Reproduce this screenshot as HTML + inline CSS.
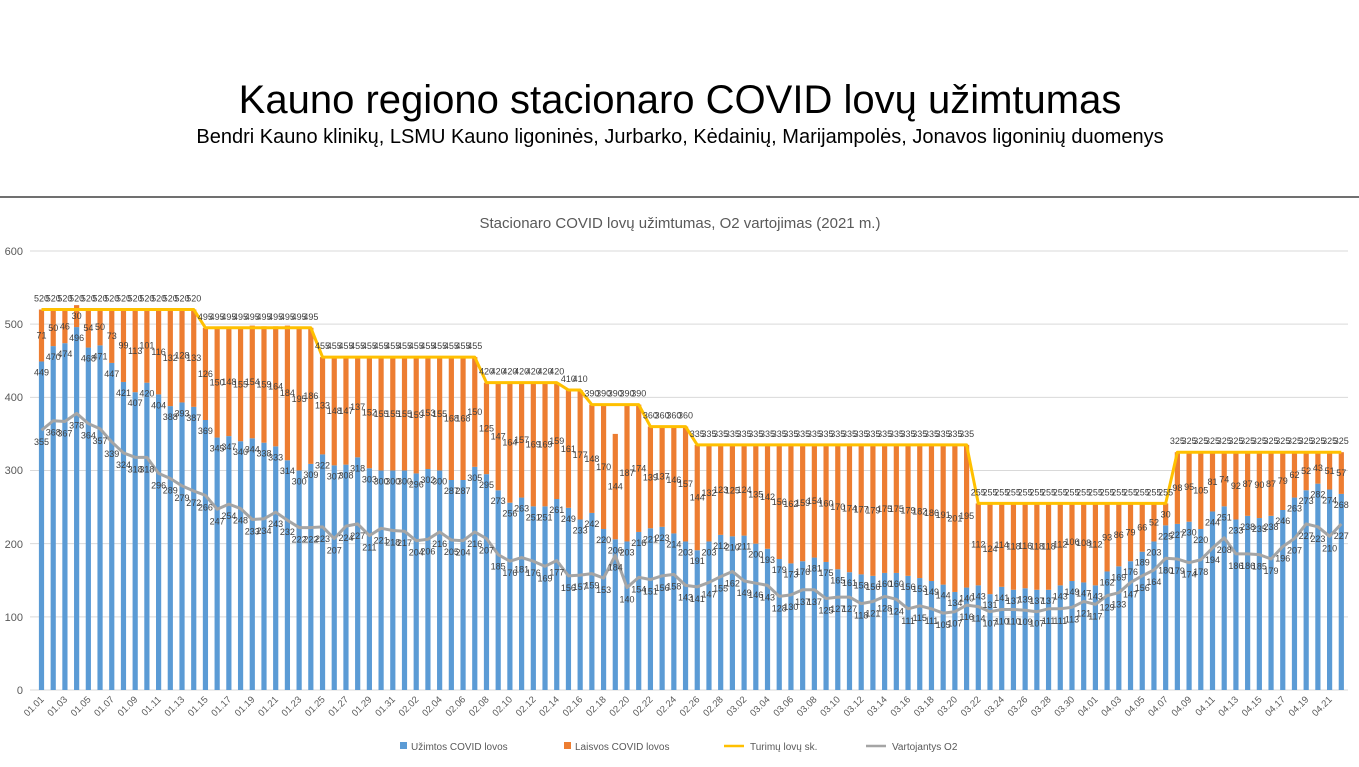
<!DOCTYPE html>
<html><head><meta charset="utf-8">
<style>
body{margin:0;background:#fff;width:1359px;height:762px;overflow:hidden;font-family:"Liberation Sans",sans-serif;}
</style></head><body>
<svg id="s" width="1359" height="762" xmlns="http://www.w3.org/2000/svg" font-family="Liberation Sans, sans-serif">
<text x="680" y="113" text-anchor="middle" font-size="40" fill="#000">Kauno regiono stacionaro COVID lovų užimtumas</text>
<text x="680" y="143" text-anchor="middle" font-size="20" fill="#000">Bendri Kauno klinikų, LSMU Kauno ligoninės, Jurbarko, Kėdainių, Marijampolės, Jonavos ligoninių duomenys</text>
<line x1="0" y1="197" x2="1359" y2="197" stroke="#404040" stroke-width="1.5"/>
<text x="680" y="228" text-anchor="middle" font-size="15" fill="#595959">Stacionaro COVID lovų užimtumas, O2 vartojimas (2021 m.)</text>
<g font-size="11" fill="#595959" text-anchor="end">
<text x="23" y="694">0</text><text x="23" y="621">100</text><text x="23" y="548">200</text><text x="23" y="474">300</text><text x="23" y="401">400</text><text x="23" y="328">500</text><text x="23" y="255">600</text>
</g>
<g id="grid" stroke="#d9d9d9" stroke-width="1"></g>
<g id="bars"></g>
<g id="lines"></g>
<g id="lbl" font-size="9" fill="#404040" text-anchor="middle"></g>
<g id="xl" font-size="9.5" fill="#595959"></g>
<g font-size="10" fill="#595959">
<rect x="400" y="742" width="7" height="7" fill="#5b9bd5"/><text x="411" y="750">Užimtos COVID lovos</text>
<rect x="564" y="742" width="7" height="7" fill="#ed7d31"/><text x="575" y="750">Laisvos COVID lovos</text>
<line x1="724" y1="746" x2="744" y2="746" stroke="#ffc000" stroke-width="2.5"/><text x="750" y="750">Turimų lovų sk.</text>
<line x1="866" y1="746" x2="886" y2="746" stroke="#a5a5a5" stroke-width="2.5"/><text x="892" y="750">Vartojantys O2</text>
</g>
</svg>
<script>
var B=[449,470,474,496,468,471,447,421,407,420,404,388,393,387,369,345,347,340,344,338,333,314,300,309,322,307,308,318,303,300,300,300,296,302,300,287,287,305,295,273,256,263,251,251,261,249,233,242,220,206,203,216,221,223,214,203,191,203,212,210,211,200,193,179,173,176,181,175,165,161,158,156,160,160,156,153,149,144,134,140,143,131,141,137,139,137,137,143,149,147,143,162,169,176,189,203,225,227,230,220,244,251,233,238,235,238,246,263,273,282,274,268];
var F=[71,50,46,30,54,50,73,99,113,101,116,132,128,133,126,150,148,155,154,159,164,184,195,186,133,148,147,137,152,155,155,155,159,153,155,168,168,150,125,147,164,157,169,169,159,161,177,148,170,144,187,174,139,137,146,157,144,132,123,125,124,135,142,156,162,159,154,160,170,174,177,179,175,175,179,182,186,191,201,195,112,124,114,118,116,118,118,112,106,108,112,93,86,79,66,52,30,98,95,105,81,74,92,87,90,87,79,62,52,43,51,57];
var O=[355,368,367,378,364,357,339,324,318,318,296,289,279,272,266,247,254,248,233,234,243,232,222,222,223,207,224,227,211,221,218,217,204,206,216,205,204,216,207,185,176,181,176,169,177,156,157,159,153,184,140,154,151,156,158,143,141,147,155,162,149,146,143,128,130,137,137,125,127,127,118,121,128,124,111,115,111,105,107,116,114,107,110,110,109,107,111,111,113,121,117,129,133,147,156,164,180,179,174,178,194,208,186,186,185,179,196,207,227,223,210,227];
var T=[];for(var i=0;i<112;i++){T.push(i<14?520:i<24?495:i<38?455:i<45?420:i<47?410:i<52?390:i<56?360:i<80?335:i<97?255:325);}
var NS="http://www.w3.org/2000/svg";
function el(p,n,a,t){var e=document.createElementNS(NS,n);for(var k in a)e.setAttribute(k,a[k]);if(t!==undefined)e.textContent=t;document.getElementById(p).appendChild(e);}
function Y(v){return 690-v*0.7317;}
function X(i){return 41.5+i*11.71;}
for(var g=0;g<=6;g++){el('grid','line',{x1:30,x2:1348,y1:Y(g*100),y2:Y(g*100)});}
var tp="",op="";
for(var i=0;i<112;i++){var x=X(i);
el('bars','rect',{x:x-2.6,y:Y(B[i]),width:5.2,height:B[i]*0.7317,fill:'#5b9bd5'});
el('bars','rect',{x:x-2.6,y:Y(B[i]+F[i]),width:5.2,height:F[i]*0.7317,fill:'#ed7d31'});
tp+=(i?'L':'M')+x+' '+Y(T[i]);op+=(i?'L':'M')+x+' '+Y(O[i]);
el('lbl','text',{x:x,y:Y(T[i])-8},T[i]);
el('lbl','text',{x:x,y:(Y(B[i]+F[i])+Y(B[i]))/2+3},F[i]);
el('lbl','text',{x:x,y:Y(B[i])+14},B[i]);
el('lbl','text',{x:x,y:Y(O[i])+15},O[i]);
if(i%2==0){var m=i<31?1:i<59?2:i<90?3:4;var d=i<31?i+1:i<59?i-30:i<90?i-58:i-89;
var s=('0'+m).slice(-2)+'.'+('0'+d).slice(-2);
el('xl','text',{x:x+3,y:700,'text-anchor':'end',transform:'rotate(-45 '+(x+3)+' 700)'},s);}
}
el('lines','path',{d:op,fill:'none',stroke:'#a5a5a5','stroke-width':3,'stroke-linejoin':'round'});
el('lines','path',{d:tp,fill:'none',stroke:'#ffc000','stroke-width':3,'stroke-linejoin':'round'});
</script>
</body></html>
